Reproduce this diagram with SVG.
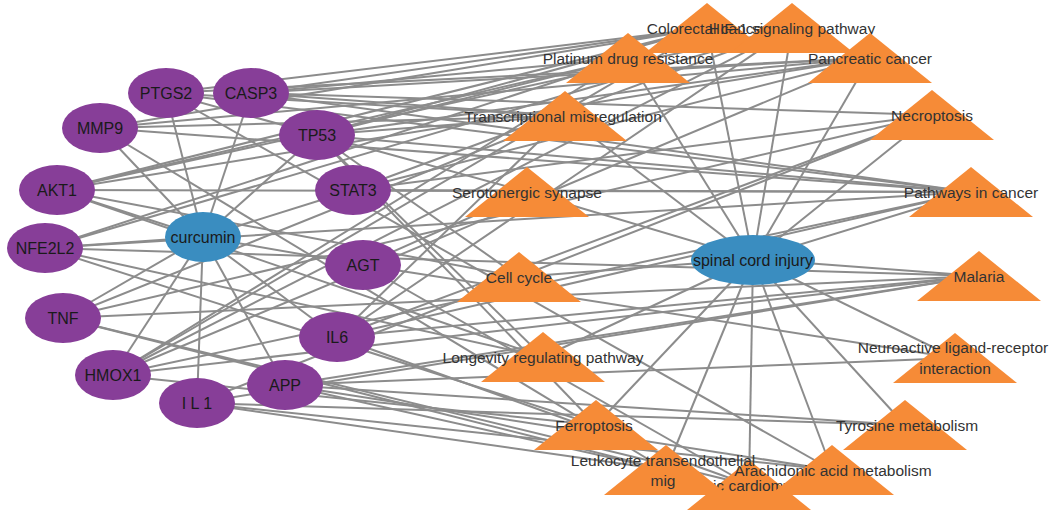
<svg xmlns="http://www.w3.org/2000/svg" width="1052" height="514" viewBox="0 0 1052 514">
<style>
.e{stroke:#8c8c8c;stroke-width:2;fill:none}
.g{fill:#873e98}
.b{fill:#3a8dc0}
.t{fill:#f68b37}
.gl{font-family:"Liberation Sans",Arial,sans-serif;font-size:16px;fill:#1a1a1a;text-anchor:middle}
.pl{font-family:"Liberation Sans",Arial,sans-serif;font-size:15.5px;fill:#333;text-anchor:middle}
</style>
<rect width="1052" height="514" fill="#fff"/>
<g id="edges" class="e">
<!-- curcumin to genes -->
<line x1="203" y1="237" x2="166" y2="93"/>
<line x1="203" y1="237" x2="251" y2="93"/>
<line x1="203" y1="237" x2="100" y2="128"/>
<line x1="203" y1="237" x2="317" y2="135"/>
<line x1="203" y1="237" x2="57" y2="190"/>
<line x1="203" y1="237" x2="353" y2="190"/>
<line x1="203" y1="237" x2="45" y2="248"/>
<line x1="203" y1="237" x2="363" y2="265"/>
<line x1="203" y1="237" x2="63" y2="318"/>
<line x1="203" y1="237" x2="337" y2="337"/>
<line x1="203" y1="237" x2="113" y2="375"/>
<line x1="203" y1="237" x2="285" y2="385"/>
<line x1="203" y1="237" x2="197" y2="403"/>
<!-- spinal cord injury to pathways -->
<line x1="753" y1="259" x2="707" y2="28"/>
<line x1="753" y1="259" x2="792" y2="28"/>
<line x1="753" y1="259" x2="628" y2="58"/>
<line x1="753" y1="259" x2="870" y2="58"/>
<line x1="753" y1="259" x2="565" y2="116"/>
<line x1="753" y1="259" x2="932" y2="115"/>
<line x1="753" y1="259" x2="527" y2="192"/>
<line x1="753" y1="259" x2="971" y2="192"/>
<line x1="753" y1="259" x2="519" y2="277"/>
<line x1="753" y1="259" x2="979" y2="276"/>
<line x1="753" y1="259" x2="543" y2="357"/>
<line x1="753" y1="259" x2="955" y2="358"/>
<line x1="753" y1="259" x2="596" y2="425"/>
<line x1="753" y1="259" x2="905" y2="425"/>
<line x1="753" y1="259" x2="666" y2="470"/>
<line x1="753" y1="259" x2="749" y2="485"/>
<line x1="753" y1="259" x2="832" y2="470"/>
<!-- PTGS2 -->
<line x1="166" y1="93" x2="707" y2="28"/>
<line x1="166" y1="93" x2="870" y2="58"/>
<line x1="166" y1="93" x2="971" y2="192"/>
<line x1="166" y1="93" x2="527" y2="192"/>
<line x1="166" y1="93" x2="832" y2="470"/>
<line x1="166" y1="93" x2="565" y2="116"/>
<!-- CASP3 -->
<line x1="251" y1="93" x2="707" y2="28"/>
<line x1="251" y1="93" x2="628" y2="58"/>
<line x1="251" y1="93" x2="870" y2="58"/>
<line x1="251" y1="93" x2="971" y2="192"/>
<line x1="251" y1="93" x2="932" y2="115"/>
<line x1="251" y1="93" x2="565" y2="116"/>
<!-- MMP9 -->
<line x1="100" y1="128" x2="971" y2="192"/>
<line x1="100" y1="128" x2="565" y2="116"/>
<line x1="100" y1="128" x2="666" y2="470"/>
<line x1="100" y1="128" x2="707" y2="28"/>
<line x1="100" y1="128" x2="870" y2="58"/>
<!-- TP53 -->
<line x1="317" y1="135" x2="707" y2="28"/>
<line x1="317" y1="135" x2="628" y2="58"/>
<line x1="317" y1="135" x2="870" y2="58"/>
<line x1="317" y1="135" x2="971" y2="192"/>
<line x1="317" y1="135" x2="519" y2="277"/>
<line x1="317" y1="135" x2="565" y2="116"/>
<line x1="317" y1="135" x2="596" y2="425"/>
<line x1="317" y1="135" x2="543" y2="357"/>
<!-- AKT1 -->
<line x1="57" y1="190" x2="707" y2="28"/>
<line x1="57" y1="190" x2="792" y2="28"/>
<line x1="57" y1="190" x2="628" y2="58"/>
<line x1="57" y1="190" x2="870" y2="58"/>
<line x1="57" y1="190" x2="971" y2="192"/>
<line x1="57" y1="190" x2="543" y2="357"/>
<line x1="57" y1="190" x2="519" y2="277"/>
<!-- STAT3 -->
<line x1="353" y1="190" x2="792" y2="28"/>
<line x1="353" y1="190" x2="870" y2="58"/>
<line x1="353" y1="190" x2="971" y2="192"/>
<line x1="353" y1="190" x2="932" y2="115"/>
<!-- NFE2L2 -->
<line x1="45" y1="248" x2="971" y2="192"/>
<line x1="45" y1="248" x2="792" y2="28"/>
<line x1="45" y1="248" x2="628" y2="58"/>
<line x1="45" y1="248" x2="979" y2="276"/>
<line x1="45" y1="248" x2="596" y2="425"/>
<line x1="45" y1="248" x2="543" y2="357"/>
<!-- AGT -->
<line x1="363" y1="265" x2="955" y2="358"/>
<line x1="363" y1="265" x2="749" y2="485"/>
<line x1="363" y1="265" x2="527" y2="192"/>
<!-- TNF -->
<line x1="63" y1="318" x2="932" y2="115"/>
<line x1="63" y1="318" x2="979" y2="276"/>
<line x1="63" y1="318" x2="749" y2="485"/>
<line x1="63" y1="318" x2="565" y2="116"/>
<line x1="63" y1="318" x2="666" y2="470"/>
<!-- IL6 -->
<line x1="337" y1="337" x2="792" y2="28"/>
<line x1="337" y1="337" x2="979" y2="276"/>
<line x1="337" y1="337" x2="971" y2="192"/>
<line x1="337" y1="337" x2="749" y2="485"/>
<line x1="337" y1="337" x2="565" y2="116"/>
<line x1="337" y1="337" x2="932" y2="115"/>
<!-- HMOX1 -->
<line x1="113" y1="375" x2="792" y2="28"/>
<line x1="113" y1="375" x2="596" y2="425"/>
<line x1="113" y1="375" x2="979" y2="276"/>
<line x1="113" y1="375" x2="971" y2="192"/>
<line x1="113" y1="375" x2="628" y2="58"/>
<line x1="113" y1="375" x2="707" y2="28"/>
<line x1="113" y1="375" x2="870" y2="58"/>
<!-- IL1 -->
<line x1="197" y1="403" x2="979" y2="276"/>
<line x1="197" y1="403" x2="932" y2="115"/>
<line x1="197" y1="403" x2="905" y2="425"/>
<line x1="197" y1="403" x2="832" y2="470"/>
<line x1="197" y1="403" x2="666" y2="470"/>
<!-- APP -->
<line x1="285" y1="385" x2="979" y2="276"/>
<line x1="285" y1="385" x2="905" y2="425"/>
<line x1="285" y1="385" x2="955" y2="358"/>
<line x1="285" y1="385" x2="832" y2="470"/>
<line x1="285" y1="385" x2="666" y2="470"/>
</g>
<g id="n-PTGS2"><ellipse class="g" cx="166" cy="93" rx="38" ry="25"/><text class="gl" x="166" y="98.5">PTGS2</text></g>
<g id="n-CASP3"><ellipse class="g" cx="251" cy="93" rx="38" ry="25"/><text class="gl" x="251" y="98.5">CASP3</text></g>
<g id="n-MMP9"><ellipse class="g" cx="100" cy="128" rx="38" ry="25"/><text class="gl" x="100" y="133.5">MMP9</text></g>
<g id="n-TP53"><ellipse class="g" cx="317" cy="135" rx="38" ry="25"/><text class="gl" x="317" y="140.5">TP53</text></g>
<g id="n-AKT1"><ellipse class="g" cx="57" cy="190" rx="38" ry="25"/><text class="gl" x="57" y="195.5">AKT1</text></g>
<g id="n-STAT3"><ellipse class="g" cx="353" cy="190" rx="38" ry="25"/><text class="gl" x="353" y="195.5">STAT3</text></g>
<g id="n-NFE2L2"><ellipse class="g" cx="45" cy="248" rx="38" ry="25"/><text class="gl" x="45" y="253.5">NFE2L2</text></g>
<g id="n-AGT"><ellipse class="g" cx="363" cy="265" rx="38" ry="25"/><text class="gl" x="363" y="270.5">AGT</text></g>
<g id="n-TNF"><ellipse class="g" cx="63" cy="318" rx="38" ry="25"/><text class="gl" x="63" y="323.5">TNF</text></g>
<g id="n-IL6"><ellipse class="g" cx="337" cy="337" rx="38" ry="25"/><text class="gl" x="337" y="342.5">IL6</text></g>
<g id="n-HMOX1"><ellipse class="g" cx="113" cy="375" rx="38" ry="25"/><text class="gl" x="113" y="380.5">HMOX1</text></g>
<g id="n-APP"><ellipse class="g" cx="285" cy="385" rx="38" ry="25"/><text class="gl" x="285" y="390.5">APP</text></g>
<g id="n-IL1"><ellipse class="g" cx="197" cy="403" rx="38" ry="25"/><text class="gl" x="197" y="408.5">I L 1</text></g>
<g id="n-curcumin"><ellipse class="b" cx="203" cy="237" rx="38" ry="25"/><text class="gl" x="203" y="242.5">curcumin</text></g>
<g id="n-sci"><ellipse class="b" cx="753" cy="260" rx="62" ry="25"/><text class="gl" x="753" y="265.5">spinal cord injury</text></g>
<g id="p-colorectal"><polygon class="t" points="707,3 769,53 645,53"/><text class="pl" x="707" y="33.5">Colorectal cancer</text></g>
<g id="p-hif1"><polygon class="t" points="792,3 854,53 730,53"/><text class="pl" x="792" y="33.5">HIF-1 signaling pathway</text></g>
<g id="p-platinum"><polygon class="t" points="628,33 690,83 566,83"/><text class="pl" x="628" y="63.5">Platinum drug resistance</text></g>
<g id="p-pancreatic"><polygon class="t" points="870,33 932,83 808,83"/><text class="pl" x="870" y="63.5">Pancreatic cancer</text></g>
<g id="p-transcriptional"><polygon class="t" points="565,91 627,141 503,141"/><text class="pl" x="563" y="121.5">Transcriptional misregulation</text></g>
<g id="p-necroptosis"><polygon class="t" points="932,90 994,140 870,140"/><text class="pl" x="932" y="120.5">Necroptosis</text></g>
<g id="p-serotonergic"><polygon class="t" points="527,167 589,217 465,217"/><text class="pl" x="527" y="197.5">Serotonergic synapse</text></g>
<g id="p-pathwaysincancer"><polygon class="t" points="971,167 1033,217 909,217"/><text class="pl" x="971" y="197.5">Pathways in cancer</text></g>
<g id="p-cellcycle"><polygon class="t" points="519,252 581,302 457,302"/><text class="pl" x="519" y="282.5">Cell cycle</text></g>
<g id="p-malaria"><polygon class="t" points="979,251 1041,301 917,301"/><text class="pl" x="979" y="281.5">Malaria</text></g>
<g id="p-longevity"><polygon class="t" points="543,332 605,382 481,382"/><text class="pl" x="543" y="362.5">Longevity regulating pathway</text></g>
<g id="p-neuroactive"><polygon class="t" points="955,333 1017,383 893,383"/><text class="pl" x="953" y="352.5">Neuroactive ligand-receptor</text><text class="pl" x="955" y="373.5">interaction</text></g>
<g id="p-ferroptosis"><polygon class="t" points="596,400 658,450 534,450"/><text class="pl" x="594" y="430.5">Ferroptosis</text></g>
<g id="p-tyrosine"><polygon class="t" points="905,400 967,450 843,450"/><text class="pl" x="907" y="430.5">Tyrosine metabolism</text></g>
<g id="p-cardiomyopathy"><polygon class="t" points="749,460 811,510 687,510"/><text class="pl" x="737" y="490.5">Hypertrophic cardiomyopathy</text></g>
<g id="p-leukocyte"><polygon class="t" points="666,445 728,495 604,495"/><text class="pl" x="663" y="465.5">Leukocyte transendothelial</text><text class="pl" x="663" y="485.5">mig</text></g>
<g id="p-arachidonic"><polygon class="t" points="832,445 894,495 770,495"/><text class="pl" x="833" y="475.5">Arachidonic acid metabolism</text></g>
</svg>
